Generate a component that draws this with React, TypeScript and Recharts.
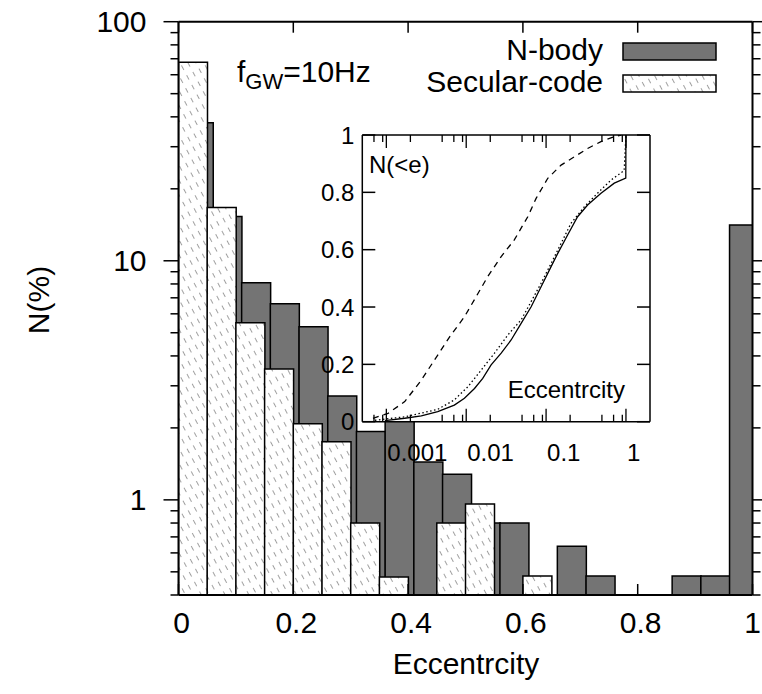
import React from "react";
import { Bar, CartesianGrid, ComposedChart, Line, LineChart, XAxis, YAxis } from "recharts";

const font = "'Liberation Sans', Arial, Helvetica, sans-serif";

// main histogram, bins of 0.05 in eccentricity, N in %
const binWidth = 0.05;
const secularBinStart = [0, 0.05, 0.1, 0.15, 0.2, 0.25, 0.3, 0.35, 0.4, 0.45, 0.5, 0.55, 0.6, 0.65, 0.7, 0.75, 0.8, 0.85, 0.9, 0.95];
const secularPct = [67.6, 16.7, 5.5, 3.53, 2.08, 1.75, 0.8, 0.476, null, 0.8, 0.96, null, 0.48, null, null, null, null, null, null, null];
// the N-body boxes are drawn shifted by 0.01
const nbodyBinStart = [0.01, 0.06, 0.11, 0.16, 0.21, 0.26, 0.31, 0.36, 0.41, 0.46, 0.51, 0.56, 0.61, 0.66, 0.71, 0.76, 0.81, 0.86, 0.91, 0.96];
const nbodyPct = [37.8, 15.3, 8.09, 6.61, 5.3, 2.72, 1.93, 2.2, 1.44, 1.28, 0.8, 0.8, null, 0.64, 0.48, null, null, 0.48, 0.48, 14.1];

const xTicks = [0, 0.2, 0.4, 0.6, 0.8, 1];
const yMajor = [1, 10, 100];
const yTicks = [0.4, 0.5, 0.6, 0.7, 0.8, 0.9, 1, 2, 3, 4, 5, 6, 7, 8, 9, 10, 20, 30, 40, 50, 60, 70, 80, 90, 100];

// inset: cumulative distributions N(<e)
const dashedE = [0.00068, 0.00105, 0.0017, 0.00274, 0.004, 0.0062, 0.0095, 0.0133, 0.0186, 0.0274, 0.04, 0.059, 0.075, 0.105, 0.154, 0.226, 0.331, 0.487, 0.714, 0.87];
const dashedN = [0.012, 0.029, 0.07, 0.145, 0.215, 0.296, 0.366, 0.436, 0.506, 0.576, 0.634, 0.715, 0.779, 0.849, 0.895, 0.924, 0.953, 0.977, 0.994, 1.0];
const solidE = [0.00096, 0.0017, 0.00274, 0.0044, 0.0071, 0.0095, 0.0127, 0.0161, 0.0205, 0.0274, 0.0365, 0.0487, 0.065, 0.0866, 0.1155, 0.14, 0.186, 0.248, 0.331, 0.487, 0.714, 0.995, 1.0];
const solidN = [0.004, 0.012, 0.02, 0.035, 0.058, 0.082, 0.116, 0.151, 0.198, 0.239, 0.285, 0.343, 0.401, 0.471, 0.541, 0.587, 0.651, 0.715, 0.756, 0.797, 0.832, 0.85, 1.0];
const dottedE = [0.00072, 0.0017, 0.0044, 0.0071, 0.0105, 0.0154, 0.0226, 0.0331, 0.0487, 0.065, 0.0866, 0.1155, 0.154, 0.205, 0.302, 0.441, 0.65, 0.95, 1.0];
const dottedN = [0.005, 0.017, 0.043, 0.076, 0.122, 0.18, 0.239, 0.302, 0.355, 0.419, 0.483, 0.552, 0.622, 0.692, 0.75, 0.797, 0.843, 0.876, 1.0];

const insetXMajor = [0.001, 0.01, 0.1, 1];
const insetXTicks = [0.0007, 0.0009, 0.001, 0.002, 0.005, 0.007, 0.009, 0.01, 0.02, 0.05, 0.07, 0.09, 0.1, 0.2, 0.5, 0.7, 0.9, 1];
const insetYTicks = [0, 0.2, 0.4, 0.6, 0.8, 1];

const histRows = secularBinStart.map((lo, i) => ({
  secX: lo + binWidth / 2,
  sec: secularPct[i],
  nbX: nbodyBinStart[i] + binWidth / 2,
  nb: nbodyPct[i],
}));

const zip = (es: number[], ns: number[]) => es.map((e, i) => ({ e, n: ns[i] }));
const dashedCurve = zip(dashedE, dashedN);
const solidCurve = zip(solidE, solidN);
const dottedCurve = zip(dottedE, dottedN);

function LeftTick({ x, y, payload }: any) {
  const major = yMajor.includes(payload.value);
  return (
    <g>
      <line x1={x - (major ? 15 : 8)} x2={x} y1={y} y2={y} stroke="#000" strokeWidth={1.5} />
      {major && (
        <text x={x - 32} y={y} textAnchor="end" dominantBaseline="central" fontSize={30} fontFamily={font} fill="#000">
          {payload.value}
        </text>
      )}
    </g>
  );
}

function RightTick({ x, y, payload }: any) {
  const major = yMajor.includes(payload.value);
  return <line x1={x} x2={x + (major ? 15 : 8)} y1={y} y2={y} stroke="#000" strokeWidth={1.5} />;
}

function BottomTick({ x, y, payload }: any) {
  const shift = payload.value === 1 ? 0 : 3;
  return (
    <g>
      <line x1={x} x2={x} y1={y} y2={y - 11} stroke="#000" strokeWidth={1.5} />
      <text x={x + shift} y={y + 27} textAnchor="middle" dominantBaseline="central" fontSize={30} fontFamily={font} fill="#000">
        {payload.value}
      </text>
    </g>
  );
}

function TopTick({ x, y }: any) {
  return <line x1={x} x2={x} y1={y} y2={y + 11} stroke="#000" strokeWidth={1.5} />;
}

function InsetLeftTick({ x, y, payload }: any) {
  return (
    <g>
      <line x1={x} x2={x + 13} y1={y} y2={y} stroke="#000" strokeWidth={1.5} />
      <text x={x - 8} y={y} textAnchor="end" dominantBaseline="central" fontSize={24} fontFamily={font} fill="#000">
        {payload.value}
      </text>
    </g>
  );
}

function InsetRightTick({ x, y }: any) {
  return <line x1={x - 13} x2={x} y1={y} y2={y} stroke="#000" strokeWidth={1.5} />;
}

function InsetBottomTick({ x, y, payload }: any) {
  const major = insetXMajor.includes(payload.value);
  return (
    <g>
      <line x1={x} x2={x} y1={y} y2={y - (major ? 13 : 7)} stroke="#000" strokeWidth={1.3} />
      {major && (
        <text x={x + 1} y={y + 31} textAnchor="start" dominantBaseline="central" fontSize={24} fontFamily={font} fill="#000">
          {payload.value}
        </text>
      )}
    </g>
  );
}

function InsetTopTick({ x, y, payload }: any) {
  const major = insetXMajor.includes(payload.value);
  return <line x1={x} x2={x} y1={y} y2={y + (major ? 13 : 7)} stroke="#000" strokeWidth={1.3} />;
}

const frame = { stroke: "#000", strokeWidth: 2 };

export default function App() {
  return (
    <div style={{ position: "absolute", left: 0, top: 0, width: 762, height: 694, background: "#fff", overflow: "hidden" }}>
      <svg width={0} height={0} style={{ position: "absolute" }}>
        <defs>
          <pattern id="hatch" patternUnits="userSpaceOnUse" width={7} height={11} patternTransform="rotate(-28)">
            <rect width={7} height={11} fill="#fff" />
            <line x1={3.5} y1={0} x2={3.5} y2={5} stroke="#888" strokeWidth={0.8} />
          </pattern>
        </defs>
      </svg>

      <div style={{ position: "absolute", left: 0, top: 0 }}>
        <ComposedChart
          width={762}
          height={694}
          data={histRows}
          margin={{ top: 0, right: 0, bottom: 0, left: 118.5 }}
          barCategoryGap={0}
          barGap={0}
        >
          <XAxis xAxisId="nb" dataKey="nbX" type="number" domain={[0, 1]} allowDataOverflow hide height={0} />
          <XAxis
            xAxisId="sec"
            dataKey="secX"
            type="number"
            domain={[0, 1]}
            allowDataOverflow
            ticks={xTicks}
            interval={0}
            height={99}
            tickSize={0}
            tickMargin={0}
            tickLine={false}
            axisLine={frame}
            tick={<BottomTick />}
          />
          <XAxis
            xAxisId="top"
            orientation="top"
            dataKey="secX"
            type="number"
            domain={[0, 1]}
            allowDataOverflow
            ticks={xTicks}
            interval={0}
            height={21.7}
            tickSize={0}
            tickMargin={0}
            tickLine={false}
            axisLine={frame}
            tick={<TopTick />}
          />
          <YAxis
            yAxisId="main"
            scale="log"
            type="number"
            domain={[0.4, 100]}
            allowDataOverflow
            ticks={yTicks}
            interval={0}
            width={60}
            tickSize={0}
            tickMargin={0}
            tickLine={false}
            axisLine={frame}
            tick={<LeftTick />}
          />
          <YAxis
            yAxisId="right"
            orientation="right"
            scale="log"
            type="number"
            domain={[0.4, 100]}
            allowDataOverflow
            ticks={yTicks}
            interval={0}
            width={9.5}
            tickSize={0}
            tickMargin={0}
            tickLine={false}
            axisLine={frame}
            tick={<RightTick />}
          />
          <Bar xAxisId="nb" yAxisId="main" dataKey="nb" fill="#747474" stroke="#000" strokeWidth={1.5} isAnimationActive={false} />
          <Bar xAxisId="sec" yAxisId="main" dataKey="sec" fill="url(#hatch)" stroke="#000" strokeWidth={1.5} isAnimationActive={false} />
        </ComposedChart>
      </div>

      <div style={{ position: "absolute", left: 290, top: 105 }}>
        <LineChart width={370} height={365} margin={{ top: 20, right: 0, bottom: 0, left: 0 }}>
          <CartesianGrid xAxisId="b" yAxisId="l" horizontal={false} vertical={false} fill="#fff" fillOpacity={1} />
          <XAxis
            xAxisId="b"
            dataKey="e"
            type="number"
            scale="log"
            domain={[0.0005, 2]}
            allowDataOverflow
            ticks={insetXTicks}
            interval={0}
            height={48.3}
            tickSize={0}
            tickMargin={0}
            tickLine={false}
            axisLine={{ stroke: "#000", strokeWidth: 1.5 }}
            tick={<InsetBottomTick />}
          />
          <XAxis
            xAxisId="t"
            orientation="top"
            dataKey="e"
            type="number"
            scale="log"
            domain={[0.0005, 2]}
            allowDataOverflow
            ticks={insetXTicks}
            interval={0}
            height={10}
            tickSize={0}
            tickMargin={0}
            tickLine={false}
            axisLine={{ stroke: "#000", strokeWidth: 1.5 }}
            tick={<InsetTopTick />}
          />
          <YAxis
            yAxisId="l"
            type="number"
            domain={[0, 1]}
            allowDataOverflow
            ticks={insetYTicks}
            interval={0}
            width={72.3}
            tickSize={0}
            tickMargin={0}
            tickLine={false}
            axisLine={{ stroke: "#000", strokeWidth: 1.5 }}
            tick={<InsetLeftTick />}
          />
          <YAxis
            yAxisId="r"
            orientation="right"
            type="number"
            domain={[0, 1]}
            allowDataOverflow
            ticks={insetYTicks}
            interval={0}
            width={10}
            tickSize={0}
            tickMargin={0}
            tickLine={false}
            axisLine={{ stroke: "#000", strokeWidth: 1.5 }}
            tick={<InsetRightTick />}
          />
          <Line xAxisId="b" yAxisId="l" data={dashedCurve} dataKey="n" type="linear" stroke="#000" strokeWidth={1.3} strokeDasharray="6 5" dot={false} isAnimationActive={false} />
          <Line xAxisId="b" yAxisId="l" data={dottedCurve} dataKey="n" type="linear" stroke="#000" strokeWidth={1.3} strokeDasharray="1.5 2.5" dot={false} isAnimationActive={false} />
          <Line xAxisId="b" yAxisId="l" data={solidCurve} dataKey="n" type="linear" stroke="#000" strokeWidth={1.3} dot={false} isAnimationActive={false} />
        </LineChart>
      </div>

      <svg width={762} height={694} style={{ position: "absolute", left: 0, top: 0, pointerEvents: "none" }} fontFamily={font} fill="#000">
        <text transform="translate(38,300) rotate(-90)" textAnchor="middle" dominantBaseline="central" fontSize={30}>
          N(%)
        </text>
        <text x={466} y={674} textAnchor="middle" fontSize={30}>
          Eccentrcity
        </text>
        <text x={237} y={82} fontSize={30}>
          f
          <tspan fontSize={22} dy={7}>
            GW
          </tspan>
          <tspan dy={-7}>=10Hz</tspan>
        </text>
        <text x={603} y={60} textAnchor="end" fontSize={30}>
          N-body
        </text>
        <rect x={623} y={43} width={93} height={17} fill="#747474" stroke="#000" strokeWidth={1.5} />
        <text x={603} y={92} textAnchor="end" fontSize={30}>
          Secular-code
        </text>
        <rect x={623} y={75} width={93} height={17} fill="url(#hatch)" stroke="#000" strokeWidth={1.5} />
        <text x={369} y={173} fontSize={24}>
          N(&lt;e)
        </text>
        <text x={625} y={398} textAnchor="end" fontSize={24}>
          Eccentrcity
        </text>
      </svg>
    </div>
  );
}
